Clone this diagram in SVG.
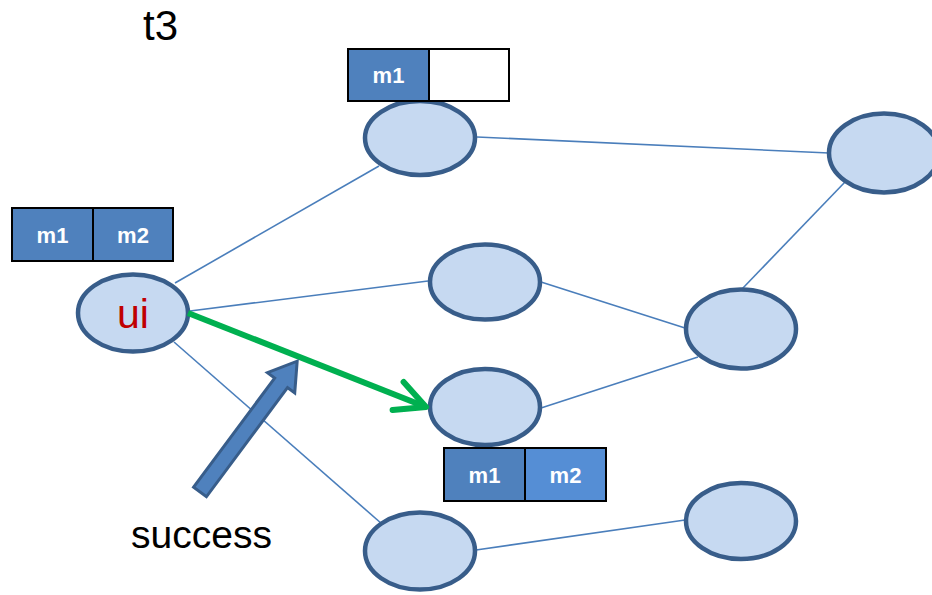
<svg xmlns="http://www.w3.org/2000/svg" width="932" height="595" viewBox="0 0 932 595">
  <style>
    .node { fill: #C6D9F1; stroke: #385D8A; stroke-width: 4.5; }
    .link { stroke: #4A7EBB; stroke-width: 1.6; fill: none; }
    .cell { fill: #4F81BD; stroke: #000; stroke-width: 2; }
    .cell-lt { fill: #558ED5; stroke: #000; stroke-width: 2; }
    .cell-empty { fill: #FFFFFF; stroke: #000; stroke-width: 2; }
    .msg { font-family: "Liberation Sans", Arial, sans-serif; font-weight: bold; font-size: 22px; fill: #FFFFFF; text-anchor: middle; }
    .caption { font-family: "Liberation Sans", Arial, sans-serif; fill: #000; }
  </style>
  <defs>
    <marker id="chevron" markerUnits="userSpaceOnUse" viewBox="-36 -20 42 40" markerWidth="42" markerHeight="40" refX="0" refY="0" orient="auto">
      <path d="M-30,-15 L0,0 L-30,15" fill="none" stroke="#00B050" stroke-width="6" stroke-linecap="round" stroke-linejoin="round"/>
    </marker>
  </defs>

  <rect width="932" height="595" fill="#FFFFFF"/>

  <!-- edges between nodes -->
  <g id="connectors">
    <line class="link" x1="175" y1="283" x2="379" y2="166"/>
    <line class="link" x1="190" y1="311" x2="428" y2="281"/>
    <line class="link" x1="174" y1="342" x2="382" y2="524"/>
    <line class="link" x1="477" y1="137" x2="829" y2="153"/>
    <line class="link" x1="541" y1="282" x2="685" y2="328"/>
    <line class="link" x1="541" y1="408" x2="698" y2="357"/>
    <line class="link" x1="742" y1="289" x2="845" y2="182"/>
    <line class="link" x1="476" y1="550" x2="685" y2="520"/>
  </g>

  <g id="node-ui">
    <ellipse class="node" cx="133" cy="313" rx="55" ry="38.5"/>
    <text x="133" y="328" font-family="'Liberation Sans', Arial, sans-serif" font-size="41" fill="#C00000" text-anchor="middle">ui</text>
    <rect class="cell" x="12" y="208" width="81" height="53"/>
    <rect class="cell" x="93" y="208" width="80" height="53"/>
    <text class="msg" x="52.5" y="243">m1</text>
    <text class="msg" x="133" y="243">m2</text>
  </g>

  <g id="node-top">
    <ellipse class="node" cx="420" cy="138" rx="55" ry="37"/>
    <rect class="cell" x="348" y="49" width="81" height="52"/>
    <rect class="cell-empty" x="429" y="49" width="80" height="52"/>
    <text class="msg" x="388.5" y="83">m1</text>
  </g>

  <g id="node-top-right">
    <ellipse class="node" cx="884" cy="153" rx="55" ry="39.5"/>
  </g>

  <g id="node-mid">
    <ellipse class="node" cx="485" cy="282" rx="55" ry="37.5"/>
  </g>

  <g id="node-mid-right">
    <ellipse class="node" cx="741" cy="329" rx="55" ry="39.5"/>
  </g>

  <g id="node-target">
    <ellipse class="node" cx="485" cy="407" rx="55" ry="38"/>
    <rect class="cell" x="444" y="448" width="81" height="53"/>
    <rect class="cell-lt" x="525" y="448" width="81" height="53"/>
    <text class="msg" x="484.5" y="483">m1</text>
    <text class="msg" x="565.5" y="483">m2</text>
  </g>

  <g id="node-bottom">
    <ellipse class="node" cx="420" cy="551" rx="55" ry="38.5"/>
  </g>

  <g id="node-bottom-right">
    <ellipse class="node" cx="741" cy="521" rx="55" ry="38"/>
  </g>

  <!-- message path ui -> target -->
  <g id="message-path">
    <line x1="188" y1="313" x2="426" y2="407" stroke="#00B050" stroke-width="6" marker-end="url(#chevron)"/>
  </g>

  <!-- block arrow pointing at the delivered message -->
  <g id="success-pointer">
    <polygon points="0,-8 136,-8 136,-17 163,0 136,17 136,8 0,8" fill="#4F81BD" stroke="#385D8A" stroke-width="3" stroke-linejoin="miter" transform="translate(200,492) rotate(-53.4)"/>
    <text class="caption" x="131" y="548" font-size="39" textLength="141" lengthAdjust="spacingAndGlyphs">success</text>
  </g>

  <text class="caption" x="143" y="40" font-size="42">t3</text>
</svg>
